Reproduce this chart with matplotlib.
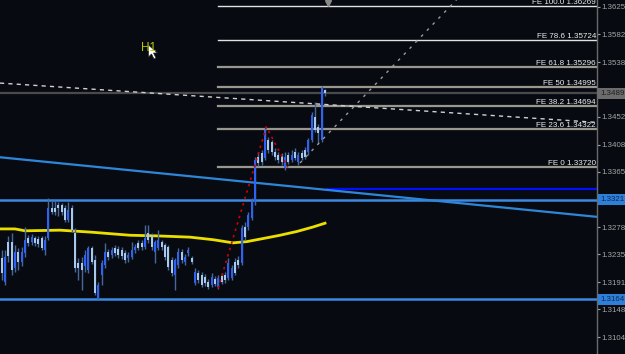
import matplotlib
matplotlib.use("Agg")
import matplotlib.pyplot as plt
import matplotlib.transforms as mtransforms
from matplotlib.patches import Polygon

plt.rcParams['font.family'] = ['Liberation Sans', 'DejaVu Sans']

# ---------------- data (H1 candles, EURUSD-like) ----------------
opens = [1.3229, 1.3191, 1.3254, 1.3254, 1.3213, 1.3239, 1.3223, 1.3237, 1.3261, 1.3254,
         1.3261, 1.3259, 1.3261, 1.3242, 1.3261, 1.3308, 1.3308, 1.3313, 1.3313, 1.3308,
         1.3289, 1.3308, 1.3269, 1.3221, 1.3221, 1.3217, 1.3210, 1.3245, 1.3226, 1.3166,
         1.3202, 1.3218, 1.3239, 1.3234, 1.3245, 1.3243, 1.3242, 1.3237, 1.3229, 1.3231,
         1.3242, 1.3253, 1.3253, 1.3246, 1.3269, 1.3265, 1.3239, 1.3245, 1.3254, 1.3250,
         1.3246, 1.3226, 1.3202, 1.3218, 1.3239, 1.3223, 1.3237, 1.3229, 1.3190, 1.3205,
         1.3202, 1.3199, 1.3191, 1.3187, 1.3196, 1.3183, 1.3201, 1.3202, 1.3198, 1.3198,
         1.3223, 1.3226, 1.3221, 1.3278, 1.3278, 1.3292, 1.3317, 1.3388, 1.3395, 1.3387,
         1.3415, 1.3412, 1.3396, 1.3392, 1.3390, 1.3371, 1.3392, 1.3384, 1.3396, 1.3381,
         1.3395, 1.3399, 1.3396, 1.3415, 1.3451, 1.3436, 1.3415, 1.3494]
highs = [1.3242, 1.3242, 1.3264, 1.3269, 1.3250, 1.3245, 1.3246, 1.3278, 1.3265, 1.3267,
         1.3264, 1.3264, 1.3264, 1.3264, 1.3324, 1.3321, 1.3321, 1.3317, 1.3316, 1.3313,
         1.3317, 1.3313, 1.3276, 1.3229, 1.3231, 1.3242, 1.3248, 1.3248, 1.3234, 1.3191,
         1.3226, 1.3253, 1.3243, 1.3246, 1.3250, 1.3248, 1.3246, 1.3242, 1.3239, 1.3254,
         1.3251, 1.3258, 1.3258, 1.3281, 1.3281, 1.3269, 1.3258, 1.3273, 1.3258, 1.3253,
         1.3250, 1.3231, 1.3229, 1.3245, 1.3243, 1.3235, 1.3246, 1.3232, 1.3213, 1.3210,
         1.3207, 1.3204, 1.3196, 1.3205, 1.3201, 1.3202, 1.3205, 1.3207, 1.3229, 1.3218,
         1.3229, 1.3232, 1.3281, 1.3286, 1.3302, 1.3324, 1.3388, 1.3396, 1.3399, 1.3436,
         1.3420, 1.3415, 1.3403, 1.3396, 1.3395, 1.3396, 1.3396, 1.3399, 1.3403, 1.3396,
         1.3399, 1.3404, 1.3418, 1.3459, 1.3475, 1.3440, 1.3500, 1.3496]
lows = [1.3194, 1.3187, 1.3223, 1.3202, 1.3207, 1.3210, 1.3217, 1.3231, 1.3248, 1.3250,
        1.3248, 1.3246, 1.3242, 1.3234, 1.3258, 1.3299, 1.3297, 1.3295, 1.3297, 1.3286,
        1.3286, 1.3270, 1.3207, 1.3194, 1.3179, 1.3207, 1.3205, 1.3220, 1.3171, 1.3163,
        1.3187, 1.3213, 1.3226, 1.3229, 1.3232, 1.3229, 1.3228, 1.3221, 1.3223, 1.3228,
        1.3237, 1.3242, 1.3242, 1.3243, 1.3253, 1.3242, 1.3221, 1.3242, 1.3242, 1.3226,
        1.3210, 1.3201, 1.3179, 1.3213, 1.3221, 1.3218, 1.3232, 1.3220, 1.3187, 1.3190,
        1.3183, 1.3185, 1.3180, 1.3183, 1.3185, 1.3180, 1.3188, 1.3190, 1.3194, 1.3194,
        1.3202, 1.3213, 1.3218, 1.3258, 1.3273, 1.3289, 1.3313, 1.3374, 1.3376, 1.3384,
        1.3395, 1.3392, 1.3384, 1.3379, 1.3376, 1.3368, 1.3377, 1.3381, 1.3384, 1.3376,
        1.3384, 1.3385, 1.3392, 1.3412, 1.3428, 1.3410, 1.3412, 1.3485]
closes = [1.3205, 1.3231, 1.3232, 1.3210, 1.3239, 1.3223, 1.3239, 1.3258, 1.3253, 1.3262,
          1.3253, 1.3251, 1.3245, 1.3258, 1.3308, 1.3302, 1.3302, 1.3308, 1.3302, 1.3289,
          1.3305, 1.3273, 1.3213, 1.3213, 1.3210, 1.3234, 1.3245, 1.3223, 1.3174, 1.3187,
          1.3221, 1.3239, 1.3231, 1.3242, 1.3237, 1.3234, 1.3232, 1.3226, 1.3234, 1.3242,
          1.3246, 1.3245, 1.3246, 1.3261, 1.3258, 1.3246, 1.3254, 1.3258, 1.3246, 1.3231,
          1.3215, 1.3205, 1.3226, 1.3239, 1.3226, 1.3231, 1.3242, 1.3223, 1.3207, 1.3194,
          1.3187, 1.3190, 1.3183, 1.3199, 1.3188, 1.3198, 1.3191, 1.3194, 1.3221, 1.3213,
          1.3205, 1.3218, 1.3276, 1.3262, 1.3297, 1.3317, 1.3384, 1.3379, 1.3381, 1.3431,
          1.3399, 1.3396, 1.3388, 1.3384, 1.3381, 1.3388, 1.3381, 1.3392, 1.3387, 1.3392,
          1.3387, 1.3388, 1.3415, 1.3455, 1.3431, 1.3426, 1.3497, 1.3489]

# moving average (yellow) read at sample bars
ma_idx = [-0.5, 4.0, 7.0, 17.5, 26.5, 38.5, 46.6, 56.5, 63.4, 69.4, 73.6, 79.6, 83.5, 88.6, 93.4, 97.0]
ma_val = [1.3275, 1.3275, 1.3272, 1.3273, 1.3270, 1.3265, 1.3264, 1.3262, 1.3258, 1.3253,
          1.3255, 1.3261, 1.3265, 1.3271, 1.3278, 1.3284]

# Fibonacci expansion levels
fe_names = ["FE 100.0 1.36269", "FE 78.6 1.35724", "FE 61.8 1.35296", "FE 50 1.34995",
            "FE 38.2 1.34694", "FE 23.6 1.34322", "FE 0 1.33720"]
fe_prices = [1.36269, 1.35724, 1.35296, 1.34995, 1.34694, 1.34322, 1.33720]
fe_start = 64.9

# horizontal levels
support_lines = [1.3321, 1.3164]
support_tags = ["1.3321", "1.3164"]
bid_price = 1.3489
bid_tag = "1.3489"
navy_level = 1.3338
navy_start = 97.6

# trend lines (bar index, price)
trend_blue = ([-0.5, 178.6], [1.3388, 1.3294])
trend_dash = ([-0.5, 178.6], [1.3505, 1.3443])
trend_ray = ([89.5, 140.0], [1.3379, 1.3656])
zigzag = ([64.9, 79.4, 85.8], [1.3181, 1.3436, 1.3372])

# axis (labels hidden under the price tags are left blank)
tick_vals = [1.3625, 1.3582, 1.3538, 1.3495, 1.3452, 1.3408, 1.3365, 1.3321, 1.3278,
             1.3235, 1.3191, 1.3148, 1.3104]
tick_labels = ["1.3625", "1.3582", "1.3538", "", "1.3452", "1.3408", "1.3365",
               "", "1.3278", "1.3235", "1.3191", "1.3148", "1.3104"]

# ---------------- drawing ----------------
BG = '#070b11'
W, H = 625, 354
fig = plt.figure(figsize=(W / 100, H / 100), dpi=100, facecolor=BG)
ax = fig.add_axes([0, 0, 597 / W, 1])
ax.set_facecolor(BG)
ax.set_xlim(-0.51, 178.6)
ax.set_ylim(1.30777, 1.363604)

# horizontal support lines
for p in support_lines:
    ax.axhline(p, color='#3a8ae2', lw=1.8, zorder=2)
ax.axhline(bid_price, color='#4a4a4a', lw=1.6, zorder=1)
ax.plot([navy_start, 178.6], [navy_level, navy_level], color='#0010ff', lw=1.6, zorder=2)

# trend line
ax.plot(*trend_blue, color='#2f86d8', lw=1.6, zorder=2)

# FE lines
blend = mtransforms.blended_transform_factory(ax.transAxes, ax.transData)
for k, (name, p) in enumerate(zip(fe_names, fe_prices)):
    c = '#e2e2e2' if k < 2 else '#9a978f'
    lw = 1.0 if k < 2 else 1.6
    ax.plot([fe_start, 178.6], [p, p], color=c, lw=lw, zorder=1)
    ax.text(596 / 597, p, name, transform=blend,
            ha='right', va='bottom', fontsize=5.8, color='#ececec', zorder=5)

# moving average
ax.plot(ma_idx, ma_val, color='#ecdf00', lw=2.0, zorder=3)

# candles
wick_c = '#46679e'
bull_c = '#2f62f4'
bear_c = '#a8c8ee'
for i, (o, h, l, c) in enumerate(zip(opens, highs, lows, closes)):
    ax.plot([i, i], [l, h], color=wick_c, lw=1.0, zorder=4, solid_capstyle='butt')
    bottom = min(o, c)
    height = max(abs(c - o), 0.00008)
    ax.bar(i, height, bottom=bottom, width=0.66, color=bull_c if c >= o else bear_c,
           edgecolor='none', zorder=5)

# dashed and dotted lines
ax.plot(*trend_dash, color='#d0d0d0', lw=1.0, ls=(0, (3, 3)), zorder=6)
ax.plot(*trend_ray, color='#9a9a9a', lw=1.0, ls=(0, (2, 4)), zorder=6)
ax.plot(*zigzag, color='#d00000', lw=1.2, ls=(0, (1.5, 2.5)), zorder=6)

# top marker
ax.plot([97.9], [0.992], marker='v', ms=5, color='#8a8a8a',
        transform=mtransforms.blended_transform_factory(ax.transData, ax.transAxes),
        clip_on=False, zorder=7)

# axes styling
for s in ['top', 'left', 'bottom']:
    ax.spines[s].set_visible(False)
ax.spines['right'].set_color('#6a6a6a')
ax.spines['right'].set_linewidth(1.0)
ax.set_xticks([])
ax.yaxis.tick_right()
ax.set_yticks(tick_vals)
ax.set_yticklabels(tick_labels)
ax.tick_params(axis='y', colors='#a4a4a4', labelsize=5.7, length=2.2, width=0.8, pad=0.8)

# price tags on the axis
ax.text(1.0 + 3 / 597, bid_price, bid_tag, transform=blend, ha='left', va='center',
        fontsize=5.7, color='#1e1e1e', clip_on=False, zorder=8,
        bbox=dict(boxstyle='square,pad=0.25', fc='#6c6c6c', ec='none'))
for p, t in zip(support_lines, support_tags):
    ax.text(1.0 + 3 / 597, p, t, transform=blend, ha='left', va='center',
            fontsize=5.7, color='#0c2a58', clip_on=False, zorder=8,
            bbox=dict(boxstyle='square,pad=0.25', fc='#2e7fd8', ec='none'))

# "H1" label and mouse cursor
fig.text(141.5 / W, 1 - 51 / H, "H1", color='#b9c800', fontsize=8.5, ha='left', va='baseline')
tip_x, tip_y = 148.5, 45.0
cursor_px = [(0, 0), (0, 12), (3, 9), (5.5, 14), (7.5, 13), (5, 8), (9, 8)]
pts = [((tip_x + dx) / W, 1 - (tip_y + dy) / H) for dx, dy in cursor_px]
fig.add_artist(Polygon(pts, closed=True, transform=fig.transFigure, fc='white', ec='#202020', lw=0.5))

fig.savefig('out.png', dpi=100, facecolor=BG)
